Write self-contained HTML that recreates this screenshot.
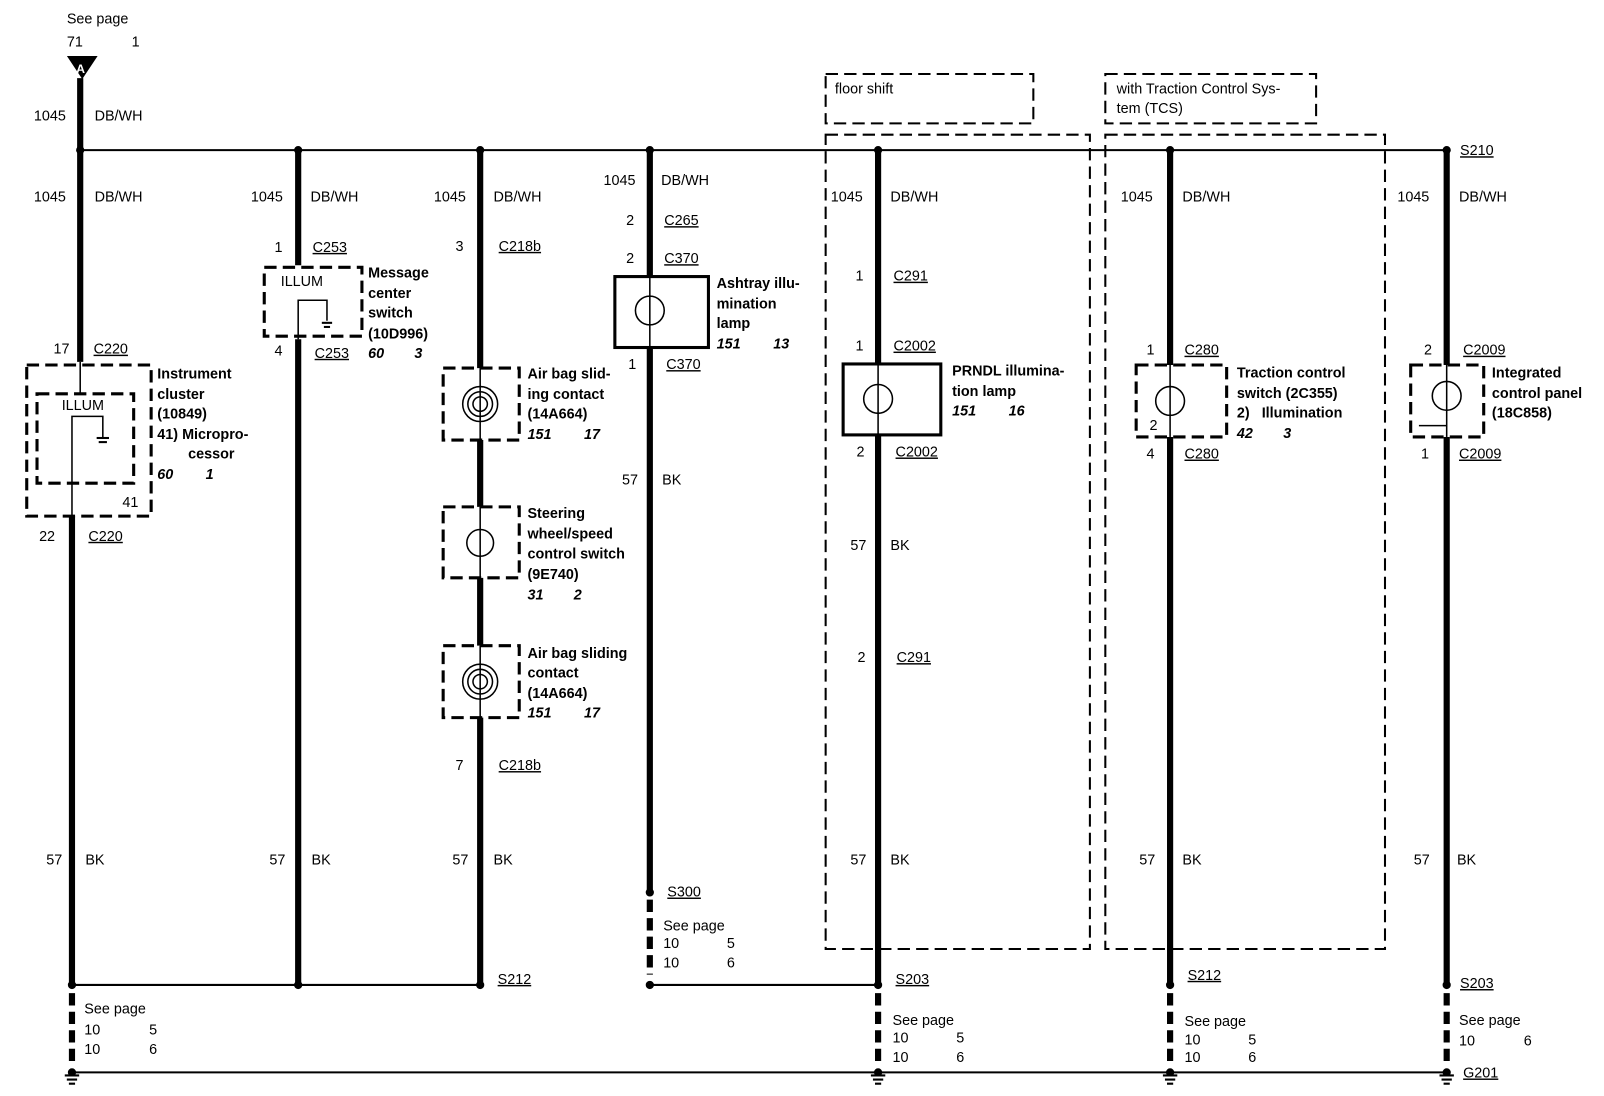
<!DOCTYPE html>
<html><head><meta charset="utf-8"><style>
html,body{margin:0;padding:0;background:#fff;}
svg{display:block;}
text{font-family:"Liberation Sans",Arial,sans-serif;font-size:14px;fill:#000;}
.b{font-weight:bold;}
.i{font-weight:bold;font-style:italic;}
.u{text-decoration:underline;}
</style></head><body>
<svg width="1604" height="1096" viewBox="0 0 1560 1066" preserveAspectRatio="none" xmlns="http://www.w3.org/2000/svg">
<g stroke="#000" fill="none">
<!-- buses -->
<line x1="78" y1="146" x2="1407" y2="146" stroke-width="2"/>
<line x1="70" y1="958" x2="467" y2="958" stroke-width="2"/>
<line x1="632" y1="958" x2="854" y2="958" stroke-width="2"/>
<line x1="70" y1="1043" x2="1407" y2="1043" stroke-width="2"/>
<!-- dashed boxes conditions -->
<g stroke-width="2" stroke-dasharray="12,6">
<rect x="803" y="72" width="202" height="48"/>
<rect x="803" y="131" width="257" height="792"/>
<rect x="1075" y="72" width="205" height="48"/>
<rect x="1075" y="131" width="272" height="792"/>
</g>
<!-- top A -->
<polygon points="66,55 94,55 80,76" fill="#000"/>
<line x1="78" y1="76" x2="78" y2="146" stroke-width="6"/>
<!-- col1 -->
<line x1="78" y1="146" x2="78" y2="352" stroke-width="6"/>
<line x1="78" y1="352" x2="78" y2="383" stroke-width="1.5"/>
<g stroke-width="3" stroke-dasharray="12,6">
<rect x="26" y="355" width="121" height="147"/>
<rect x="36" y="383" width="94" height="87"/>
</g>
<polyline points="70,502 70,405 100,405 100,425" stroke-width="1.5"/>
<line x1="94" y1="426" x2="106" y2="426" stroke-width="2"/><line x1="96" y1="430" x2="104" y2="430" stroke-width="2"/>
<line x1="70" y1="502" x2="70" y2="958" stroke-width="6"/>
<!-- col2 -->
<line x1="290" y1="146" x2="290" y2="258" stroke-width="6"/>
<g stroke-width="3" stroke-dasharray="12,6"><rect x="257" y="260" width="95" height="67"/></g>
<polyline points="290,330 290,292 318,292 318,312" stroke-width="1.5"/>
<line x1="313" y1="314" x2="323" y2="314" stroke-width="2"/><line x1="315" y1="318" x2="321" y2="318" stroke-width="2"/>
<line x1="290" y1="330" x2="290" y2="958" stroke-width="6"/>
<!-- col3 -->
<line x1="467" y1="146" x2="467" y2="358" stroke-width="6"/>
<line x1="467" y1="358" x2="467" y2="428" stroke-width="1.5"/>
<line x1="467" y1="428" x2="467" y2="493" stroke-width="6"/>
<line x1="467" y1="493" x2="467" y2="562" stroke-width="1.5"/>
<line x1="467" y1="562" x2="467" y2="628" stroke-width="6"/>
<line x1="467" y1="628" x2="467" y2="698" stroke-width="1.5"/>
<line x1="467" y1="698" x2="467" y2="958" stroke-width="6"/>
<g stroke-width="3" stroke-dasharray="12,6">
<rect x="431" y="358" width="74" height="70"/>
<rect x="431" y="493" width="74" height="69"/>
<rect x="431" y="628" width="74" height="70"/>
</g>
<g stroke-width="1.5">
<circle cx="467" cy="393" r="17"/><circle cx="467" cy="393" r="12"/><circle cx="467" cy="393" r="7"/>
<circle cx="467" cy="528" r="13"/>
<circle cx="467" cy="663" r="17"/><circle cx="467" cy="663" r="12"/><circle cx="467" cy="663" r="7"/>
</g>
<!-- col4 -->
<line x1="632" y1="146" x2="632" y2="269" stroke-width="6"/>
<rect x="598" y="269" width="91" height="69" stroke-width="3"/>
<line x1="632" y1="269" x2="632" y2="338" stroke-width="1.5"/>
<circle cx="632" cy="302" r="14" stroke-width="1.5"/>
<line x1="632" y1="338" x2="632" y2="868" stroke-width="6"/>
<line x1="632" y1="875" x2="632" y2="948" stroke-width="6" stroke-dasharray="12,6"/>
<!-- col5 -->
<line x1="854" y1="146" x2="854" y2="354" stroke-width="6"/>
<rect x="820" y="354" width="95" height="69" stroke-width="3"/>
<line x1="854" y1="354" x2="854" y2="423" stroke-width="1.5"/>
<circle cx="854" cy="388" r="14" stroke-width="1.5"/>
<line x1="854" y1="423" x2="854" y2="958" stroke-width="6"/>
<line x1="854" y1="966" x2="854" y2="1036" stroke-width="6" stroke-dasharray="12,6"/>
<!-- col6 -->
<line x1="1138" y1="146" x2="1138" y2="355" stroke-width="6"/>
<g stroke-width="3" stroke-dasharray="12,6"><rect x="1105" y="355" width="88" height="70"/></g>
<line x1="1138" y1="355" x2="1138" y2="425" stroke-width="1.5"/>
<circle cx="1138" cy="390" r="14" stroke-width="1.5"/>
<line x1="1138" y1="425" x2="1138" y2="958" stroke-width="6"/>
<line x1="1138" y1="966" x2="1138" y2="1036" stroke-width="6" stroke-dasharray="12,6"/>
<!-- col7 -->
<line x1="1407" y1="146" x2="1407" y2="355" stroke-width="6"/>
<g stroke-width="3" stroke-dasharray="12,6"><rect x="1372" y="355" width="71" height="70"/></g>
<line x1="1407" y1="355" x2="1407" y2="425" stroke-width="1.5"/>
<circle cx="1407" cy="385" r="14" stroke-width="1.5"/>
<line x1="1380" y1="414" x2="1407" y2="414" stroke-width="1.5"/>
<line x1="1407" y1="425" x2="1407" y2="958" stroke-width="6"/>
<line x1="1407" y1="966" x2="1407" y2="1036" stroke-width="6" stroke-dasharray="12,6"/>
<line x1="70" y1="966" x2="70" y2="1036" stroke-width="6" stroke-dasharray="12,6"/>
<!-- grounds -->
<g stroke-width="2">
<path d="M63,1046h14M65,1050h10M67,1054h6"/>
<path d="M847,1046h14M849,1050h10M851,1054h6"/>
<path d="M1131,1046h14M1133,1050h10M1135,1054h6"/>
<path d="M1400,1046h14M1402,1050h10M1404,1054h6"/>
</g>
</g>
<!-- dots -->
<g fill="#000">
<circle cx="78" cy="146" r="4"/><circle cx="290" cy="146" r="4"/><circle cx="467" cy="146" r="4"/><circle cx="632" cy="146" r="4"/><circle cx="854" cy="146" r="4"/><circle cx="1138" cy="146" r="4"/><circle cx="1407" cy="146" r="4"/>
<circle cx="70" cy="958" r="4"/><circle cx="290" cy="958" r="4"/><circle cx="467" cy="958" r="4"/><circle cx="632" cy="958" r="4"/><circle cx="854" cy="958" r="4"/><circle cx="1138" cy="958" r="4"/><circle cx="1407" cy="958" r="4"/>
<circle cx="632" cy="868" r="4"/>
<circle cx="70" cy="1043" r="4"/><circle cx="854" cy="1043" r="4"/><circle cx="1138" cy="1043" r="4"/><circle cx="1407" cy="1043" r="4"/>
</g>
<text x="74" y="71" style="font-size:12px;font-weight:bold;fill:#fff">A</text>
<!-- text -->
<text x="65" y="23">See page</text><text x="65" y="45">71</text><text x="128" y="45">1</text>
<text x="33" y="117">1045</text><text x="92" y="117">DB/WH</text>
<text x="33" y="196">1045</text><text x="92" y="196">DB/WH</text>
<text x="52" y="344">17</text><text x="91" y="344" class="u">C220</text>
<text x="60" y="399">ILLUM</text><text x="119" y="493">41</text>
<text class="b" x="153" y="368">Instrument</text><text class="b" x="153" y="388">cluster</text><text class="b" x="153" y="407">(10849)</text><text class="b" x="153" y="427">41) Micropro-</text><text class="b" x="183" y="446">cessor</text><text class="i" x="153" y="466">60</text><text class="i" x="200" y="466">1</text>
<text x="38" y="526">22</text><text x="86" y="526" class="u">C220</text>
<text x="45" y="841">57</text><text x="83" y="841">BK</text>
<text x="82" y="986">See page</text><text x="82" y="1006">10</text><text x="145" y="1006">5</text><text x="82" y="1025">10</text><text x="145" y="1025">6</text>

<text x="244" y="196">1045</text><text x="302" y="196">DB/WH</text>
<text x="267" y="245">1</text><text x="304" y="245" class="u">C253</text>
<text x="273" y="278">ILLUM</text>
<text class="b" x="358" y="270">Message</text><text class="b" x="358" y="290">center</text><text class="b" x="358" y="309">switch</text><text class="b" x="358" y="329">(10D996)</text><text class="i" x="358" y="348">60</text><text class="i" x="403" y="348">3</text>
<text x="267" y="346">4</text><text x="306" y="348" class="u">C253</text>
<text x="262" y="841">57</text><text x="303" y="841">BK</text>

<text x="422" y="196">1045</text><text x="480" y="196">DB/WH</text>
<text x="443" y="244">3</text><text x="485" y="244" class="u">C218b</text>
<text class="b" x="513" y="368">Air bag slid-</text><text class="b" x="513" y="388">ing contact</text><text class="b" x="513" y="407">(14A664)</text><text class="i" x="513" y="427">151</text><text class="i" x="568" y="427">17</text>
<text class="b" x="513" y="504">Steering</text><text class="b" x="513" y="524">wheel/speed</text><text class="b" x="513" y="543">control switch</text><text class="b" x="513" y="563">(9E740)</text><text class="i" x="513" y="583">31</text><text class="i" x="558" y="583">2</text>
<text class="b" x="513" y="640">Air bag sliding</text><text class="b" x="513" y="659">contact</text><text class="b" x="513" y="679">(14A664)</text><text class="i" x="513" y="698">151</text><text class="i" x="568" y="698">17</text>
<text x="443" y="749">7</text><text x="485" y="749" class="u">C218b</text>
<text x="440" y="841">57</text><text x="480" y="841">BK</text>
<text x="484" y="957" class="u">S212</text>

<text x="587" y="180">1045</text><text x="643" y="180">DB/WH</text>
<text x="609" y="219">2</text><text x="646" y="219" class="u">C265</text>
<text x="609" y="256">2</text><text x="646" y="256" class="u">C370</text>
<text class="b" x="697" y="280">Ashtray illu-</text><text class="b" x="697" y="300">mination</text><text class="b" x="697" y="319">lamp</text><text class="i" x="697" y="339">151</text><text class="i" x="752" y="339">13</text>
<text x="611" y="359">1</text><text x="648" y="359" class="u">C370</text>
<text x="605" y="471">57</text><text x="644" y="471">BK</text>
<text x="649" y="872" class="u">S300</text>
<text x="645" y="905">See page</text><text x="645" y="922">10</text><text x="707" y="922">5</text><text x="645" y="941">10</text><text x="707" y="941">6</text>

<text x="812" y="91">floor shift</text>
<text x="808" y="196">1045</text><text x="866" y="196">DB/WH</text>
<text x="832" y="273">1</text><text x="869" y="273" class="u">C291</text>
<text x="832" y="341">1</text><text x="869" y="341" class="u">C2002</text>
<text class="b" x="926" y="365">PRNDL illumina-</text><text class="b" x="926" y="385">tion lamp</text><text class="i" x="926" y="404">151</text><text class="i" x="981" y="404">16</text>
<text x="833" y="444">2</text><text x="871" y="444" class="u">C2002</text>
<text x="827" y="535">57</text><text x="866" y="535">BK</text>
<text x="834" y="644">2</text><text x="872" y="644" class="u">C291</text>
<text x="827" y="841">57</text><text x="866" y="841">BK</text>
<text x="871" y="957" class="u">S203</text>
<text x="868" y="997">See page</text><text x="868" y="1014">10</text><text x="930" y="1014">5</text><text x="868" y="1033">10</text><text x="930" y="1033">6</text>

<text x="1086" y="91">with Traction Control Sys-</text><text x="1086" y="110">tem (TCS)</text>
<text x="1090" y="196">1045</text><text x="1150" y="196">DB/WH</text>
<text x="1115" y="345">1</text><text x="1152" y="345" class="u">C280</text>
<text x="1118" y="418">2</text>
<text class="b" x="1203" y="367">Traction control</text><text class="b" x="1203" y="387">switch (2C355)</text><text class="b" x="1203" y="406">2)&#160;&#160;&#160;Illumination</text><text class="i" x="1203" y="426">42</text><text class="i" x="1248" y="426">3</text>
<text x="1115" y="446">4</text><text x="1152" y="446" class="u">C280</text>
<text x="1108" y="841">57</text><text x="1150" y="841">BK</text>
<text x="1155" y="953" class="u">S212</text>
<text x="1152" y="998">See page</text><text x="1152" y="1016">10</text><text x="1214" y="1016">5</text><text x="1152" y="1033">10</text><text x="1214" y="1033">6</text>

<text x="1420" y="151" class="u">S210</text>
<text x="1359" y="196">1045</text><text x="1419" y="196">DB/WH</text>
<text x="1385" y="345">2</text><text x="1423" y="345" class="u">C2009</text>
<text class="b" x="1451" y="367">Integrated</text><text class="b" x="1451" y="387">control panel</text><text class="b" x="1451" y="406">(18C858)</text>
<text x="1382" y="446">1</text><text x="1419" y="446" class="u">C2009</text>
<text x="1375" y="841">57</text><text x="1417" y="841">BK</text>
<text x="1420" y="961" class="u">S203</text>
<text x="1419" y="997">See page</text><text x="1419" y="1017">10</text><text x="1482" y="1017">6</text>
<text x="1423" y="1048" class="u">G201</text>
</svg>
</body></html>
